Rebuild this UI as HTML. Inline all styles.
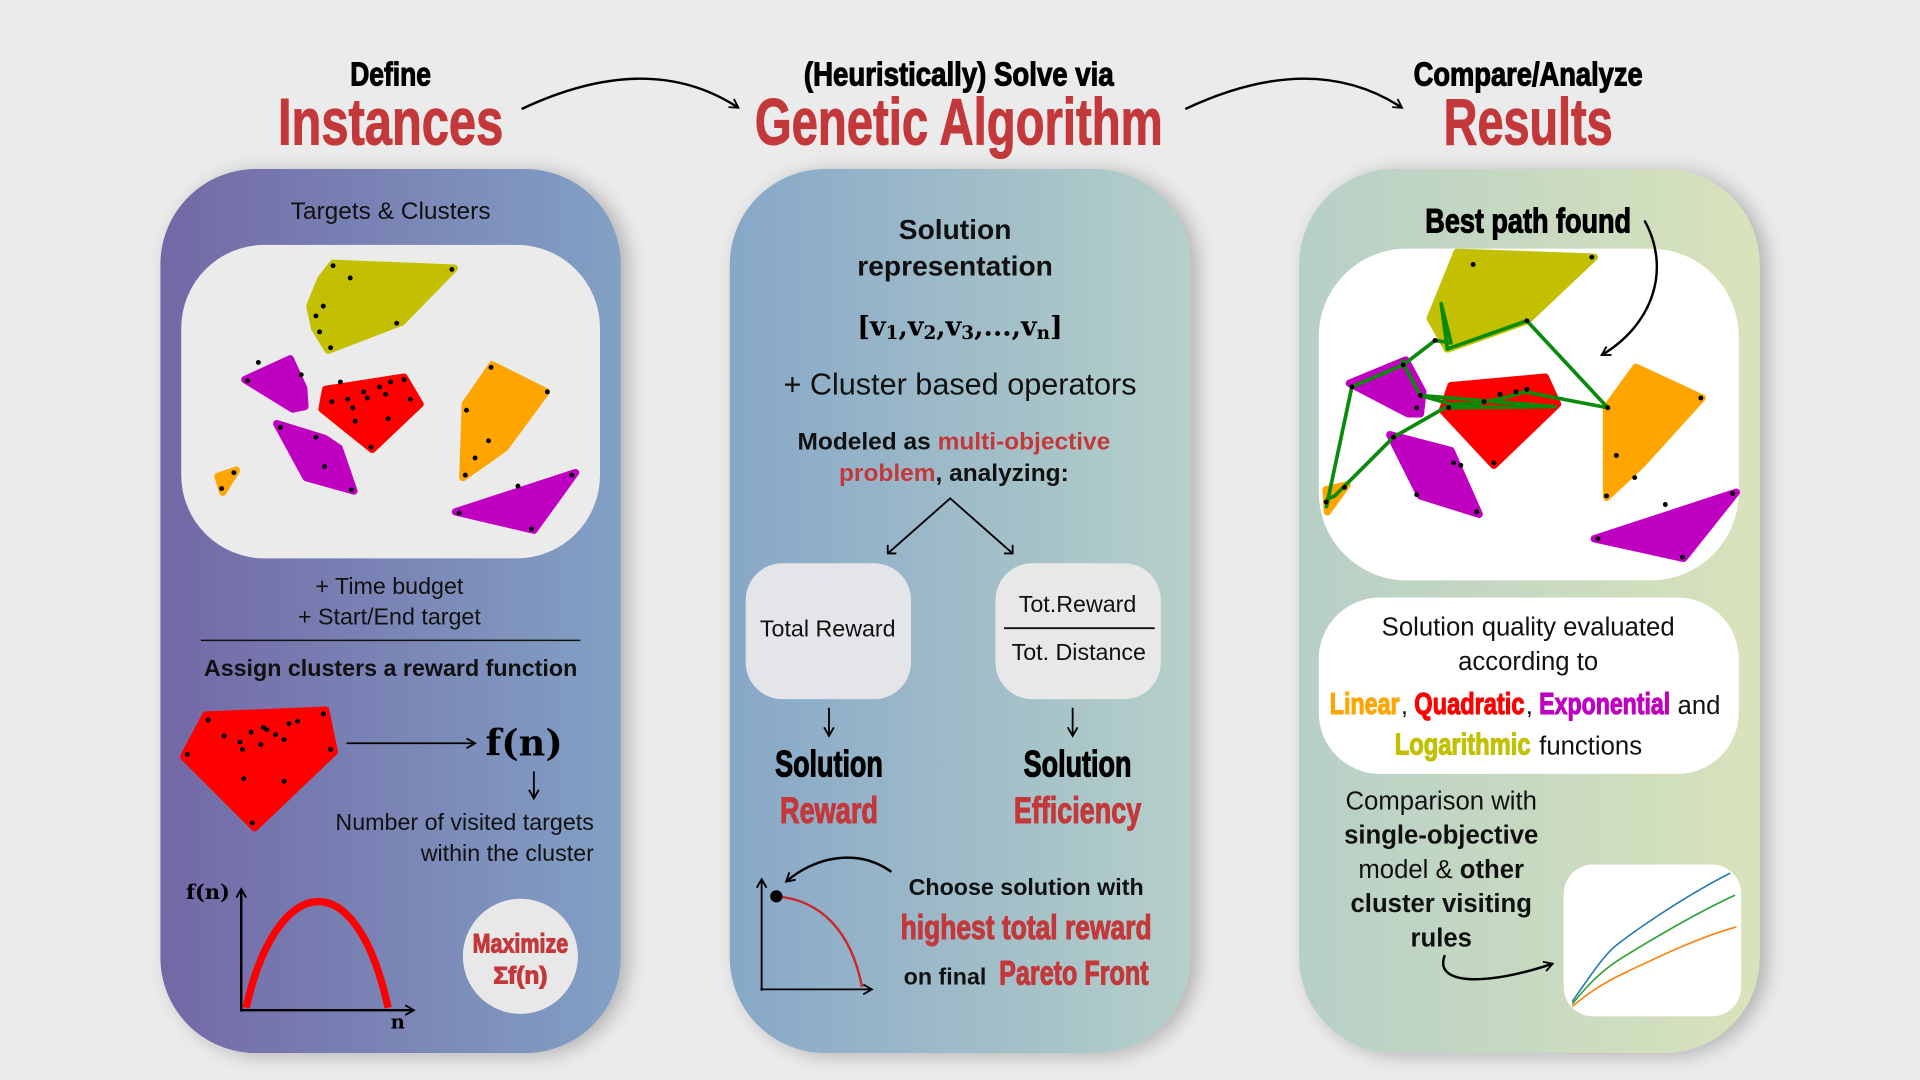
<!DOCTYPE html>
<html><head><meta charset="utf-8"><style>
html,body{margin:0;padding:0;background:#ebebeb;}
svg{display:block;}
text{font-family:"Liberation Sans",sans-serif;}
.c{font-family:"Liberation Sans Narrow","Liberation Sans",sans-serif;font-weight:bold;stroke:currentColor;stroke-width:0.9px;}
.s{font-family:"DejaVu Serif","Liberation Serif",serif;font-weight:bold;}
</style></head><body>
<svg width="1920" height="1080" viewBox="0 0 1568 882" xmlns="http://www.w3.org/2000/svg">
<defs>
<linearGradient id="g1" x1="0" x2="1"><stop offset="0" stop-color="#7268a6"/><stop offset="1" stop-color="#82a1c5"/></linearGradient>
<linearGradient id="g2" x1="0" x2="1"><stop offset="0" stop-color="#87a7c8"/><stop offset="1" stop-color="#b5d0c9"/></linearGradient>
<linearGradient id="g3" x1="0" x2="1"><stop offset="0" stop-color="#b6cfc7"/><stop offset="1" stop-color="#d9e3bb"/></linearGradient>
<filter id="sh" x="-10%" y="-10%" width="130%" height="120%"><feGaussianBlur in="SourceAlpha" stdDeviation="8"/><feOffset dx="6" dy="2"/><feComponentTransfer><feFuncA type="linear" slope="0.25"/></feComponentTransfer><feMerge><feMergeNode/><feMergeNode in="SourceGraphic"/></feMerge></filter>
<marker id="ah" markerWidth="10" markerHeight="10" refX="8" refY="5" orient="auto" markerUnits="userSpaceOnUse"><path d="M1,1 L8,5 L1,9" fill="none" stroke="#000" stroke-width="1.5"/></marker>
</defs>
<rect width="1568" height="882" fill="#ebebeb"/>

<!-- headers -->
<g color="#000">
<text class="c" x="319" y="70" font-size="27" text-anchor="middle" textLength="66" lengthAdjust="spacingAndGlyphs">Define</text>
<text class="c" x="783" y="70" font-size="27" text-anchor="middle" textLength="253" lengthAdjust="spacingAndGlyphs">(Heuristically) Solve via</text>
<text class="c" x="1248" y="70" font-size="27" text-anchor="middle" textLength="187" lengthAdjust="spacingAndGlyphs">Compare/Analyze</text>
</g>
<g color="#c3393b" fill="#c3393b">
<text class="c" x="319" y="118" font-size="54" text-anchor="middle" textLength="184" lengthAdjust="spacingAndGlyphs">Instances</text>
<text class="c" x="783" y="118" font-size="54" text-anchor="middle" textLength="333" lengthAdjust="spacingAndGlyphs">Genetic Algorithm</text>
<text class="c" x="1248" y="118" font-size="54" text-anchor="middle" textLength="138" lengthAdjust="spacingAndGlyphs">Results</text>
</g>
<path d="M426,89 Q530,40 603,88" fill="none" stroke="#000" stroke-width="2" marker-end="url(#ah)"/>
<path d="M968,89 Q1072,40 1145,88" fill="none" stroke="#000" stroke-width="2" marker-end="url(#ah)"/>

<!-- panels -->
<rect x="131" y="138" width="376" height="722" rx="78" fill="url(#g1)" filter="url(#sh)"/>
<rect x="596" y="138" width="376" height="722" rx="78" fill="url(#g2)" filter="url(#sh)"/>
<rect x="1061" y="138" width="376" height="722" rx="78" fill="url(#g3)" filter="url(#sh)"/>

<!-- PANEL 1 -->
<text x="319" y="179" font-size="20" text-anchor="middle" fill="#111">Targets &amp; Clusters</text>
<rect x="148" y="200" width="342" height="256" rx="68" fill="#ebebeb"/>
<g stroke-linejoin="round" stroke-width="6">
<polygon points="272,215 371,219 328,263 268,286 257,268 253,250 262,228" fill="#c2c000" stroke="#c2c000"/>
<polygon points="200,310 237,293 248,317 249,332 239,334" fill="#c000c0" stroke="#c000c0"/>
<polygon points="266,318 330,308 343,330 304,367 263,334" fill="#ff0000" stroke="#ff0000"/>
<polygon points="226,346 265,358 277,366 289,401 250,390" fill="#c000c0" stroke="#c000c0"/>
<polygon points="402,298 446,320 412,366 378,390 380,330" fill="#ffa500" stroke="#ffa500"/>
<polygon points="178,389 193,384 182,402" fill="#ffa500" stroke="#ffa500"/>
<polygon points="372,418 470,386 436,433" fill="#c000c0" stroke="#c000c0"/>
</g>
<g fill="#000">
<circle cx="272" cy="217" r="2"/><circle cx="286" cy="227" r="2"/><circle cx="369" cy="220" r="2"/><circle cx="264" cy="250" r="2"/><circle cx="258" cy="258" r="2"/><circle cx="324" cy="264" r="2"/><circle cx="261" cy="271" r="2"/><circle cx="270" cy="284" r="2"/>
<circle cx="246" cy="306" r="2"/><circle cx="202" cy="311" r="2"/><circle cx="211" cy="296" r="2"/>
<circle cx="278" cy="312" r="2"/><circle cx="297" cy="320" r="2"/><circle cx="310" cy="316" r="2"/><circle cx="319" cy="312" r="2"/><circle cx="330" cy="310" r="2"/><circle cx="335" cy="326" r="2"/><circle cx="271" cy="328" r="2"/><circle cx="288" cy="333" r="2"/><circle cx="300" cy="325" r="2"/><circle cx="315" cy="322" r="2"/><circle cx="290" cy="344" r="2"/><circle cx="317" cy="342" r="2"/><circle cx="303" cy="365" r="2"/><circle cx="284" cy="326" r="2"/>
<circle cx="229" cy="349" r="2"/><circle cx="258" cy="357" r="2"/><circle cx="265" cy="381" r="2"/><circle cx="287" cy="400" r="2"/>
<circle cx="401" cy="300" r="2"/><circle cx="447" cy="320" r="2"/><circle cx="381" cy="335" r="2"/><circle cx="388" cy="374" r="2"/><circle cx="399" cy="360" r="2"/><circle cx="380" cy="388" r="2"/>
<circle cx="181" cy="399" r="2"/><circle cx="191" cy="386" r="2"/><circle cx="375" cy="419" r="2"/><circle cx="423" cy="397" r="2"/><circle cx="434" cy="432" r="2"/><circle cx="467" cy="388" r="2"/>
</g>
<text x="318" y="485" font-size="19" text-anchor="middle" fill="#111">+ Time budget</text>
<text x="318" y="510" font-size="19" text-anchor="middle" fill="#111">+ Start/End target</text>
<line x1="164" y1="523" x2="474" y2="523" stroke="#111" stroke-width="1.2"/>
<text x="319" y="552" font-size="19" font-weight="bold" text-anchor="middle" fill="#111">Assign clusters a reward function</text>
<polygon points="168,584 266,580 273,614 208,676 150,618" fill="#ff0000" stroke="#ff0000" stroke-width="6" stroke-linejoin="round"/>
<g fill="#000"><circle cx="170" cy="588" r="2"/><circle cx="183" cy="601" r="2"/><circle cx="196" cy="606" r="2"/><circle cx="205" cy="598" r="2"/><circle cx="215" cy="594" r="2"/><circle cx="225" cy="600" r="2"/><circle cx="236" cy="591" r="2"/><circle cx="243" cy="589" r="2"/><circle cx="232" cy="604" r="2"/><circle cx="213" cy="608" r="2"/><circle cx="198" cy="612" r="2"/><circle cx="264" cy="583" r="2"/><circle cx="270" cy="612" r="2"/><circle cx="199" cy="636" r="2"/><circle cx="232" cy="638" r="2"/><circle cx="206" cy="672" r="2"/><circle cx="153" cy="616" r="2"/><circle cx="218" cy="596" r="2"/></g>
<line x1="283" y1="607" x2="388" y2="607" stroke="#000" stroke-width="1.5" marker-end="url(#ah)"/>
<text class="s" x="428" y="617" font-size="30" text-anchor="middle">f(n)</text>
<line x1="436" y1="630" x2="436" y2="652" stroke="#000" stroke-width="1.5" marker-end="url(#ah)"/>
<text x="485" y="678" font-size="19" text-anchor="end" fill="#111">Number of visited targets</text>
<text x="485" y="703" font-size="19" text-anchor="end" fill="#111">within the cluster</text>
<text class="s" x="152" y="734" font-size="17">f(n)</text>
<line x1="197" y1="826" x2="197" y2="726" stroke="#000" stroke-width="2" marker-end="url(#ah)"/>
<line x1="196" y1="825" x2="338" y2="825" stroke="#000" stroke-width="2" marker-end="url(#ah)"/>
<text class="s" x="319" y="840" font-size="16">n</text>
<path d="M201,823 C225,715 290,700 317,823" fill="none" stroke="#ff0000" stroke-width="6"/>
<circle cx="425" cy="781" r="47" fill="#e8e8e8"/>
<g color="#c3393b" fill="#c3393b">
<text class="c" x="425" y="778" font-size="22" text-anchor="middle" textLength="78" lengthAdjust="spacingAndGlyphs">Maximize</text>
<text class="c" x="425" y="803" font-size="20" text-anchor="middle">Σf(n)</text>
</g>

<!-- PANEL 2 -->
<text x="780" y="195" font-size="23" font-weight="bold" text-anchor="middle" fill="#111">Solution</text>
<text x="780" y="225" font-size="23" font-weight="bold" text-anchor="middle" fill="#111">representation</text>
<text class="s" x="784" y="274" font-size="22" text-anchor="middle">[v<tspan font-size="15" dy="3">1</tspan><tspan dy="-3">,v</tspan><tspan font-size="15" dy="3">2</tspan><tspan dy="-3">,v</tspan><tspan font-size="15" dy="3">3</tspan><tspan dy="-3">,...,v</tspan><tspan font-size="15" dy="3">n</tspan><tspan dy="-3">]</tspan></text>
<text x="784" y="322" font-size="25" text-anchor="middle" fill="#111">+ Cluster based operators</text>
<text x="779" y="367" font-size="20" font-weight="bold" text-anchor="middle" fill="#111">Modeled as <tspan fill="#c3393b">multi-objective</tspan></text>
<text x="779" y="393" font-size="20" font-weight="bold" text-anchor="middle" fill="#111"><tspan fill="#c3393b">problem</tspan>, analyzing:</text>
<polyline points="725,452 776,407 827,452" fill="none" stroke="#000" stroke-width="1.5"/>
<path d="M725,445 L725,452 L732,452 M827,445 L827,452 L820,452" fill="none" stroke="#000" stroke-width="1.5"/>
<rect x="609" y="460" width="135" height="111" rx="30" fill="#e4e5e8"/>
<text x="676" y="520" font-size="19" text-anchor="middle" fill="#111">Total Reward</text>
<rect x="813" y="460" width="135" height="111" rx="30" fill="#e7e8e7"/>
<text x="880" y="500" font-size="19" text-anchor="middle" fill="#111">Tot.Reward</text>
<line x1="820" y1="513" x2="943" y2="513" stroke="#111" stroke-width="1.5"/>
<text x="881" y="539" font-size="19" text-anchor="middle" fill="#111">Tot. Distance</text>
<line x1="677" y1="578" x2="677" y2="601" stroke="#000" stroke-width="1.5" marker-end="url(#ah)"/>
<line x1="876" y1="578" x2="876" y2="601" stroke="#000" stroke-width="1.5" marker-end="url(#ah)"/>
<g color="#000">
<text class="c" x="677" y="634" font-size="30" text-anchor="middle" textLength="88" lengthAdjust="spacingAndGlyphs">Solution</text>
<text class="c" x="880" y="634" font-size="30" text-anchor="middle" textLength="88" lengthAdjust="spacingAndGlyphs">Solution</text>
</g>
<g color="#c3393b" fill="#c3393b">
<text class="c" x="677" y="672" font-size="30" text-anchor="middle" textLength="80" lengthAdjust="spacingAndGlyphs">Reward</text>
<text class="c" x="880" y="672" font-size="30" text-anchor="middle" textLength="104" lengthAdjust="spacingAndGlyphs">Efficiency</text>
</g>
<line x1="622" y1="809" x2="622" y2="718" stroke="#000" stroke-width="1.5" marker-end="url(#ah)"/>
<line x1="621" y1="808" x2="712" y2="808" stroke="#000" stroke-width="1.5" marker-end="url(#ah)"/>
<path d="M634,732 C670,735 695,760 704,806" fill="none" stroke="#cc2a2a" stroke-width="2"/>
<circle cx="634" cy="732" r="5" fill="#000"/>
<path d="M728,712 C700,692 665,700 642,720" fill="none" stroke="#000" stroke-width="2" marker-end="url(#ah)"/>
<text x="838" y="731" font-size="19" font-weight="bold" text-anchor="middle" fill="#111">Choose solution with</text>
<text x="738" y="804" font-size="19" font-weight="bold" fill="#111">on final</text>
<g color="#c3393b" fill="#c3393b">
<text class="c" x="838" y="767" font-size="28" text-anchor="middle" textLength="205" lengthAdjust="spacingAndGlyphs">highest total reward</text>
<text class="c" x="816" y="804" font-size="28" textLength="122" lengthAdjust="spacingAndGlyphs">Pareto Front</text>
</g>

<!-- PANEL 3 -->
<text class="c" x="1248" y="190" font-size="28" text-anchor="middle" textLength="168" lengthAdjust="spacingAndGlyphs" color="#000">Best path found</text>
<rect x="1077" y="203" width="343" height="271" rx="72" fill="#ffffff"/>
<path d="M1343,180 C1365,220 1350,265 1308,290" fill="none" stroke="#000" stroke-width="2" marker-end="url(#ah)"/>
<g stroke-linejoin="round" stroke-width="6">
<polygon points="1190,206 1302,210 1247,262 1182,285 1168,260" fill="#c2c000" stroke="#c2c000"/>
<polygon points="1102,313 1148,294 1162,320 1160,338 1150,338" fill="#c000c0" stroke="#c000c0"/>
<polygon points="1185,315 1262,308 1272,330 1220,380 1178,335" fill="#ff0000" stroke="#ff0000"/>
<polygon points="1135,355 1185,368 1208,420 1160,405" fill="#c000c0" stroke="#c000c0"/>
<polygon points="1336,300 1390,325 1340,380 1312,406 1312,333" fill="#ffa500" stroke="#ffa500"/>
<polygon points="1083,400 1100,396 1084,418" fill="#ffa500" stroke="#ffa500"/>
<polygon points="1302,440 1418,402 1375,456" fill="#c000c0" stroke="#c000c0"/>
</g>
<polyline points="1083,415 1104,316 1146,298 1172,278 1185,280 1177,248 1182,285 1247,262 1313,333 1245,320 1228,325 1205,330 1185,330 1160,323 1145,295 1160,323 1270,332 1180,333 1138,357 1090,405 1083,408" fill="none" stroke="#0a8a0a" stroke-width="3" stroke-linejoin="round"/>
<g fill="#000"><circle cx="1104" cy="316" r="2"/><circle cx="1146" cy="298" r="2"/><circle cx="1172" cy="278" r="2"/><circle cx="1203" cy="216" r="2"/><circle cx="1300" cy="210" r="2"/><circle cx="1247" cy="262" r="2"/><circle cx="1313" cy="333" r="2"/><circle cx="1389" cy="325" r="2"/><circle cx="1320" cy="372" r="2"/><circle cx="1335" cy="390" r="2"/><circle cx="1312" cy="405" r="2"/><circle cx="1160" cy="323" r="2"/><circle cx="1157" cy="333" r="2"/><circle cx="1138" cy="357" r="2"/><circle cx="1187" cy="378" r="2"/><circle cx="1193" cy="380" r="2"/><circle cx="1157" cy="404" r="2"/><circle cx="1206" cy="418" r="2"/><circle cx="1083" cy="410" r="2"/><circle cx="1098" cy="398" r="2"/><circle cx="1305" cy="440" r="2"/><circle cx="1360" cy="412" r="2"/><circle cx="1374" cy="455" r="2"/><circle cx="1415" cy="403" r="2"/><circle cx="1212" cy="328" r="2"/><circle cx="1225" cy="322" r="2"/><circle cx="1238" cy="320" r="2"/><circle cx="1247" cy="318" r="2"/><circle cx="1220" cy="378" r="2"/><circle cx="1183" cy="333" r="2"/></g>
<rect x="1077" y="488" width="343" height="144" rx="50" fill="#ffffff"/>
<text x="1248" y="519" font-size="21" text-anchor="middle" fill="#111">Solution quality evaluated</text>
<text x="1248" y="547" font-size="21" text-anchor="middle" fill="#111">according to</text>
<text x="1086" y="583" font-size="25" class="c" fill="#ffa500" color="#ffa500" textLength="57" lengthAdjust="spacingAndGlyphs">Linear</text>
<text x="1144" y="583" font-size="21" fill="#111">,</text>
<text x="1155" y="583" font-size="25" class="c" fill="#ff0000" color="#ff0000" textLength="90" lengthAdjust="spacingAndGlyphs">Quadratic</text>
<text x="1246" y="583" font-size="21" fill="#111">,</text>
<text x="1257" y="583" font-size="25" class="c" fill="#c000c0" color="#c000c0" textLength="107" lengthAdjust="spacingAndGlyphs">Exponential</text>
<text x="1370" y="583" font-size="21" fill="#111">and</text>
<text x="1139" y="616" font-size="25" class="c" fill="#c2c000" color="#c2c000" textLength="111" lengthAdjust="spacingAndGlyphs">Logarithmic</text>
<text x="1257" y="616" font-size="21" fill="#111">functions</text>
<text x="1177" y="661" font-size="21" text-anchor="middle" fill="#111">Comparison with</text>
<text x="1177" y="689" font-size="21" font-weight="bold" text-anchor="middle" fill="#111">single-objective</text>
<text x="1177" y="717" font-size="21" text-anchor="middle" fill="#111">model &amp; <tspan font-weight="bold">other</tspan></text>
<text x="1177" y="745" font-size="21" font-weight="bold" text-anchor="middle" fill="#111">cluster visiting</text>
<text x="1177" y="773" font-size="21" font-weight="bold" text-anchor="middle" fill="#111">rules</text>
<path d="M1180,780 C1170,805 1215,805 1268,787" fill="none" stroke="#000" stroke-width="2" marker-end="url(#ah)"/>
<rect x="1277" y="706" width="145" height="124" rx="24" fill="#ffffff"/>
<path d="M1284,818 C1300,795 1310,780 1320,772 S1370,735 1413,713" fill="none" stroke="#1f77b4" stroke-width="1.3"/>
<path d="M1284,820 C1300,800 1312,790 1325,782 S1380,748 1417,731" fill="none" stroke="#2ca02c" stroke-width="1.3"/>
<path d="M1284,822 C1300,808 1315,800 1330,793 S1385,766 1418,757" fill="none" stroke="#ff7f0e" stroke-width="1.3"/>
</svg>
</body></html>
